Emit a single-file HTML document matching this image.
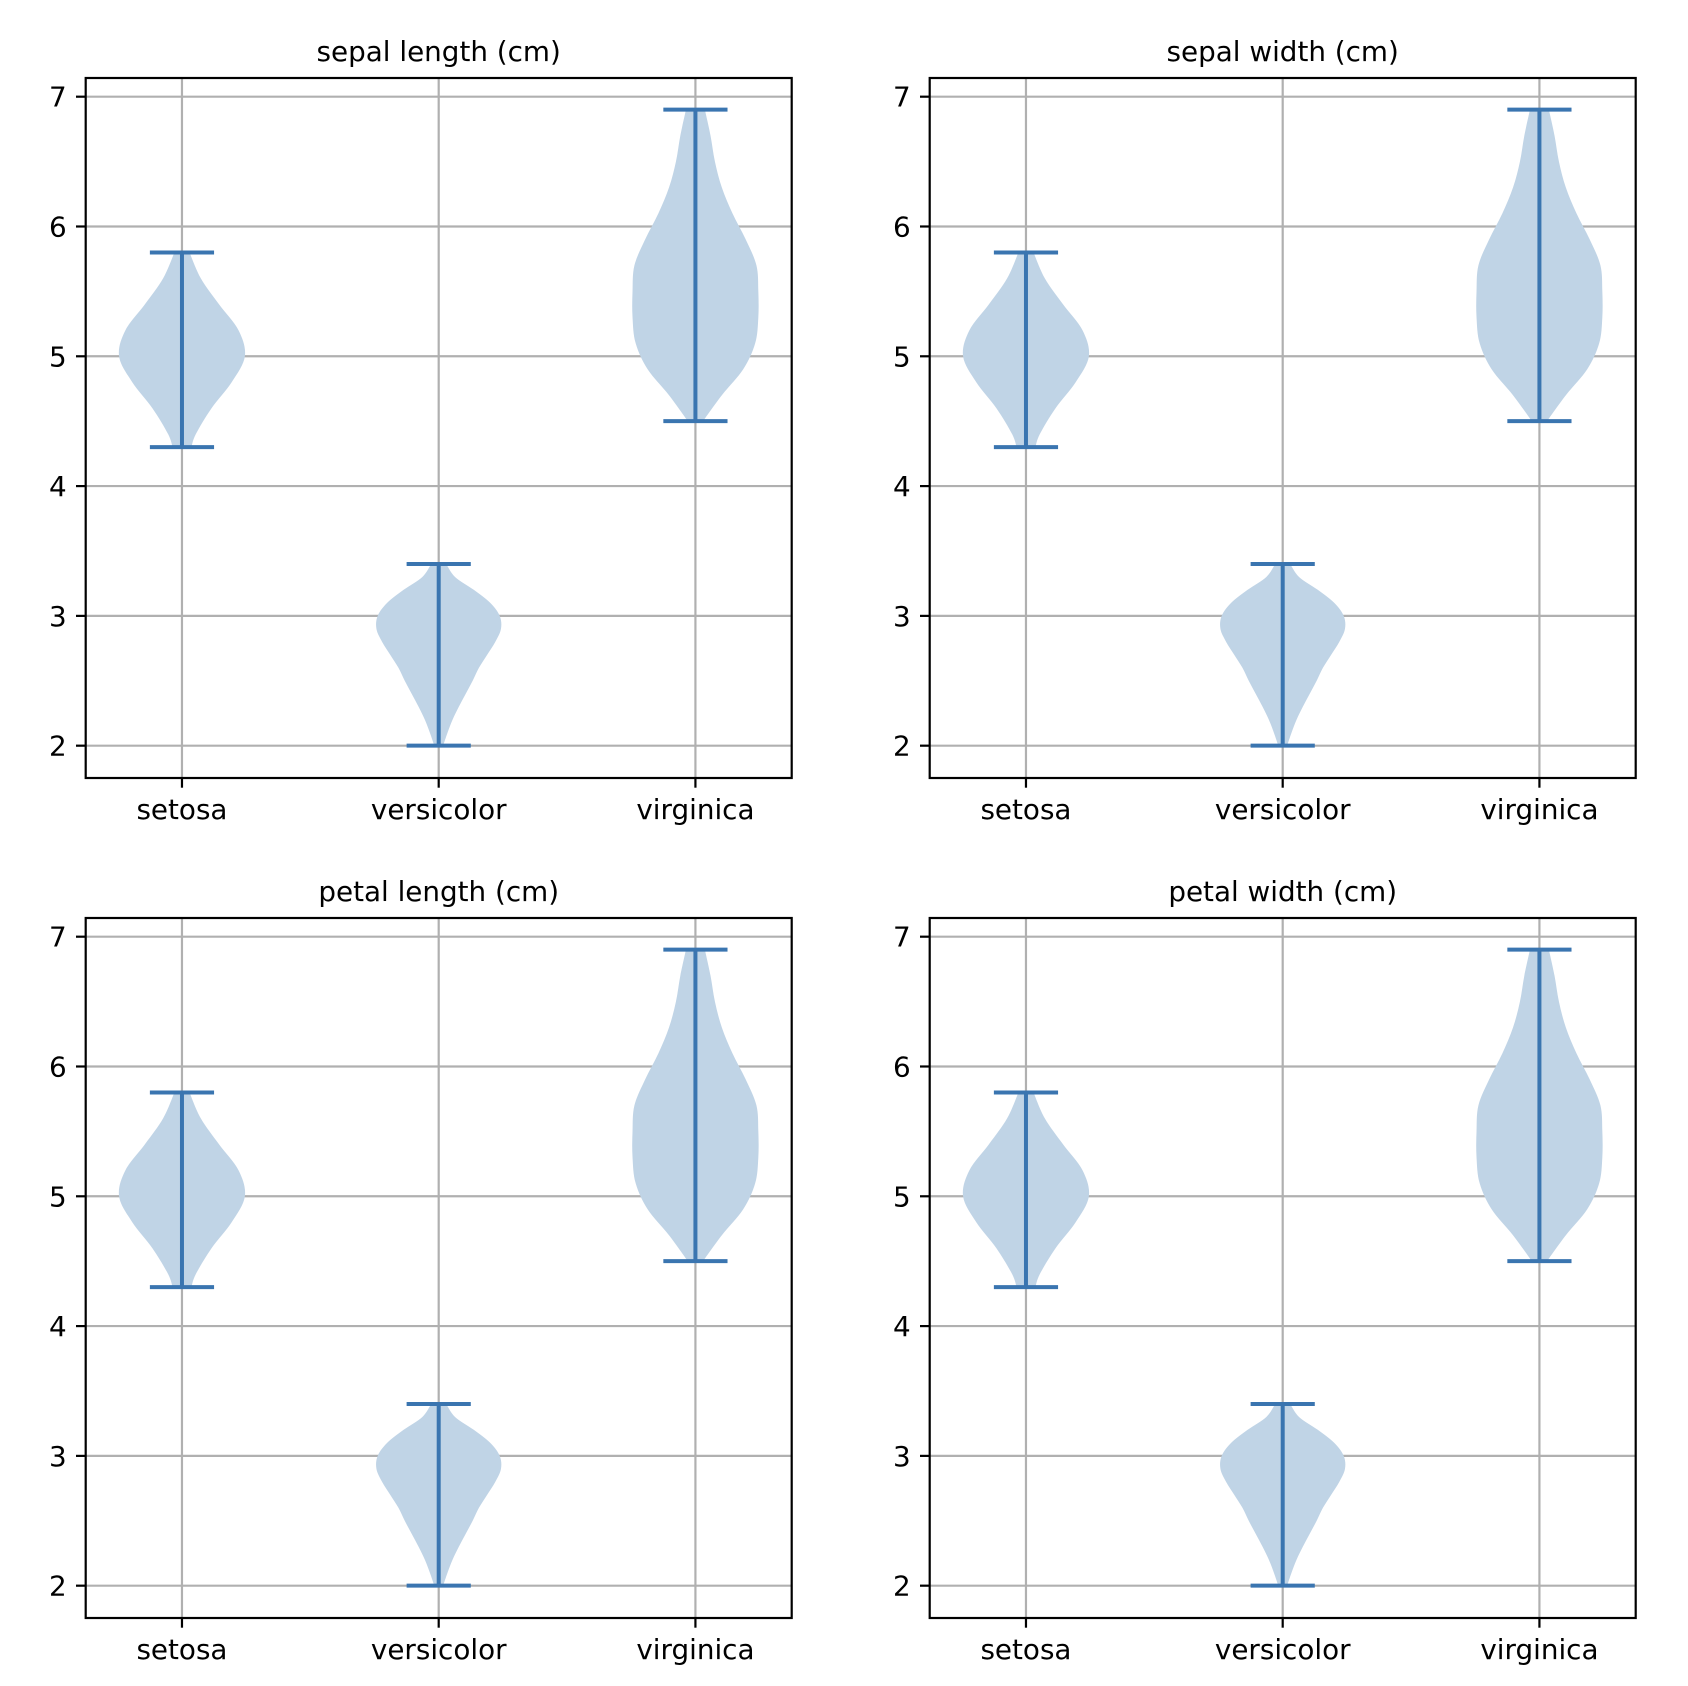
<!DOCTYPE html>
<html><head><meta charset="utf-8"><style>
html,body{margin:0;padding:0;background:#fff;}
svg{display:block;font-family:"DejaVu Sans","Liberation Sans",sans-serif;}
</style></head><body>
<svg id="fig" width="1688" height="1686" viewBox="0 0 1688 1686" xmlns="http://www.w3.org/2000/svg">
<rect width="1688" height="1686" fill="#fff"/>
</svg>
<script>
const titles = ["sepal length (cm)", "sepal width (cm)", "petal length (cm)", "petal width (cm)"];
const categories = ["setosa", "versicolor", "virginica"];
const yTicks = [2, 3, 4, 5, 6, 7];
const mins = [4.3, 2.0, 4.5];
const maxs = [5.8, 3.4, 6.9];
const setosaY = [4.3, 4.4, 4.6, 4.8, 5.0, 5.2, 5.4, 5.6, 5.8];
const setosaD = [0.15, 0.22, 0.47, 0.79, 1.0, 0.9, 0.59, 0.3, 0.12];
const versicolorY = [2.0, 2.1, 2.2, 2.3, 2.4, 2.5, 2.6, 2.7, 2.8, 2.9, 3.0, 3.1, 3.2, 3.3, 3.4];
const versicolorD = [0.07, 0.14, 0.22, 0.32, 0.43, 0.54, 0.64, 0.77, 0.9, 0.99, 0.97, 0.82, 0.56, 0.26, 0.12];
const virginicaY = [4.5, 4.7, 4.9, 5.1, 5.3, 5.5, 5.7, 5.9, 6.1, 6.3, 6.5, 6.7, 6.9];
const virginicaD = [0.12, 0.42, 0.76, 0.95, 1.0, 1.0, 0.97, 0.8, 0.59, 0.42, 0.31, 0.24, 0.15];
const profilesY = [setosaY, versicolorY, virginicaY];
const profilesD = [setosaD, versicolorD, virginicaD];

const NS = "http://www.w3.org/2000/svg";
const svg = document.getElementById("fig");
const cols = [85.7, 929.7], rows = [78, 918];
const W = 706, H = 700;
const xMin = 0.625, xMax = 3.375, yMin = 1.751, yMax = 7.144;
const halfMax = 0.245, capHalf = 0.125;
const LC = "#3a75b0", FC = "#c0d4e6";

function mk(tag, attrs, parent) {
  const e = document.createElementNS(NS, tag);
  for (const k in attrs) e.setAttribute(k, attrs[k]);
  parent.appendChild(e);
  return e;
}
function smoothPath(pts) {
  let d = "M" + pts[0][0].toFixed(2) + "," + pts[0][1].toFixed(2);
  for (let i = 0; i < pts.length - 1; i++) {
    const p0 = pts[Math.max(0, i - 1)], p1 = pts[i], p2 = pts[i + 1], p3 = pts[Math.min(pts.length - 1, i + 2)];
    const c1 = [p1[0] + (p2[0] - p0[0]) / 6, p1[1] + (p2[1] - p0[1]) / 6];
    const c2 = [p2[0] - (p3[0] - p1[0]) / 6, p2[1] - (p3[1] - p1[1]) / 6];
    d += " C" + c1[0].toFixed(2) + "," + c1[1].toFixed(2) + " " + c2[0].toFixed(2) + "," + c2[1].toFixed(2) + " " + p2[0].toFixed(2) + "," + p2[1].toFixed(2);
  }
  return d;
}

titles.forEach((t, pi) => {
  const L = cols[pi % 2], T = rows[Math.floor(pi / 2)];
  const xs = v => L + (v - xMin) / (xMax - xMin) * W;
  const ys = v => T + (yMax - v) / (yMax - yMin) * H;
  const g = mk("g", {}, svg);
  
  
  yTicks.forEach(v => {
    const l = mk("line", {x1: L, x2: L + W, y1: ys(v), y2: ys(v), stroke: "#b0b0b0", "stroke-width": 2.2}, g);
    
    
  });
  categories.forEach((c, i) => {
    const l = mk("line", {x1: xs(i + 1), x2: xs(i + 1), y1: T, y2: T + H, stroke: "#b0b0b0", "stroke-width": 2.2}, g);
    
    
  });
  categories.forEach((c, i) => {
    const cx = xs(i + 1);
    const Y = profilesY[i], D = profilesD[i];
    const right = Y.map((y, k) => [xs(i + 1 + D[k] * halfMax), ys(y)]);
    const left = Y.map((y, k) => [xs(i + 1 - D[k] * halfMax), ys(y)]).reverse();
    const d = smoothPath(right) + " L" + left[0][0].toFixed(2) + "," + left[0][1].toFixed(2) + smoothPath(left).replace(/^M[^ ]+/, "") + " Z";
    const body = mk("path", {d: d, fill: FC}, g);
    
    
    const bar = mk("line", {x1: cx, x2: cx, y1: ys(mins[i]), y2: ys(maxs[i]), stroke: LC, "stroke-width": 4}, g);
    
    
    [mins[i], maxs[i]].forEach((v, j) => {
      const cap = mk("line", {x1: xs(i + 1 - capHalf), x2: xs(i + 1 + capHalf), y1: ys(v), y2: ys(v), stroke: LC, "stroke-width": 4}, g);
      
      
    });
  });
  const fr = mk("rect", {x: L, y: T, width: W, height: H, fill: "none", stroke: "#000", "stroke-width": 2.2}, g);
  
  
  yTicks.forEach(v => {
    const tk = mk("line", {x1: L - 9.7, x2: L, y1: ys(v), y2: ys(v), stroke: "#000", "stroke-width": 2.2}, g);
    
    
    const tx = mk("text", {x: L - 19, y: ys(v) + 10, "text-anchor": "end", "font-size": 27.8, fill: "#000"}, g);
    tx.textContent = v;
    
    
  });
  categories.forEach((c, i) => {
    const tk = mk("line", {x1: xs(i + 1), x2: xs(i + 1), y1: T + H, y2: T + H + 9.7, stroke: "#000", "stroke-width": 2.2}, g);
    
    
    const tx = mk("text", {x: xs(i + 1), y: T + H + 41, "text-anchor": "middle", "font-size": 27.8, fill: "#000"}, g);
    tx.textContent = c;
    
    
  });
  const tt = mk("text", {x: L + W / 2, y: T - 17, "text-anchor": "middle", "font-size": 27.8, fill: "#000"}, g);
  tt.textContent = t;
  
  
});
</script>
</body></html>
